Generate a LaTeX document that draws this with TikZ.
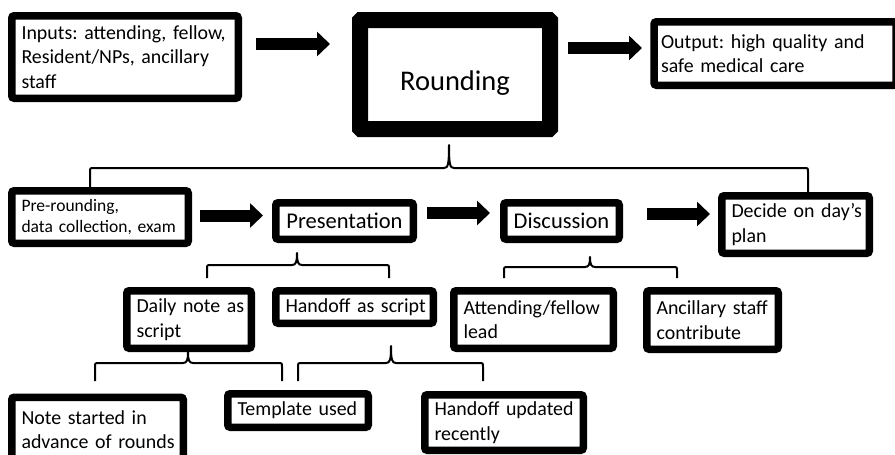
\documentclass[tikz,border=0pt]{standalone}
\usepackage{fontspec}
\setmainfont{Carlito}[WordSpace=0.75]
\usetikzlibrary{arrows.meta}
\begin{document}
\begin{tikzpicture}[x=1pt,y=-1pt,
  box/.style={draw=black, line width=7.5pt, rounded corners=2.5pt, fill=white,
    inner xsep=9.75pt, inner ysep=0pt, align=left, font=\fontsize{19.9}{24.5}\selectfont\frenchspacing},
  bigbox/.style={box, line width=16pt, rounded corners=1pt},
  midbox/.style={box, align=center, inner xsep=4pt, font=\fontsize{22.5}{26}\selectfont},
  blockarrow/.style={line width=12pt, -{Triangle[length=13pt,width=24pt]}},
  bracel/.style={line width=2pt, line join=round}
]
\clip (0,0) rectangle (895,455);
\fill[white] (0,0) rectangle (895,455);

% top row
\node[box, minimum height=82.5pt, text width=207pt] (inputs) at (125,57)
  {\mbox{Inputs: attending, fellow,}\\\mbox{Resident/NPs, ancillary}\\\mbox{staff}};
\node[bigbox, minimum width=190pt, minimum height=109pt] (round) at (455,74.5) {};
\node[font=\fontsize{28.5}{32}\selectfont, inner sep=0pt] (roundtxt) at (455,83) {Rounding};
\node[box, minimum height=63.5pt, text width=228pt, inner xsep=7pt] (output) at (775,53.5)
  {\mbox{Output: high quality and}\\\mbox{safe medical care}};

% second row
\node[box, minimum height=52.5pt, text width=157pt, font=\fontsize{17.5}{20.5}\selectfont\frenchspacing] (pre) at (100,217)
  {\mbox{Pre-rounding,}\\\mbox{data collection, exam}};
\node[midbox, minimum width=137.5pt, minimum height=36.5pt] (pres) at (344.5,221) {Presentation};
\node[midbox, minimum width=115.5pt, minimum height=36.5pt] (disc) at (561.5,221) {Discussion};
\node[box, minimum height=57.5pt, text width=128pt] (decide) at (795.5,224.5)
  {\mbox{Decide on day’s}\\\mbox{plan}};

% third row
\node[box, minimum height=57.5pt, text width=105pt] (daily) at (189,319.5)
  {\mbox{Daily note as}\\\mbox{script}};
\node[box, minimum height=32.5pt, text width=138pt] (handoff) at (354.5,307)
  {\mbox{Handoff as script}};
\node[box, minimum height=57.5pt, text width=140pt] (attend) at (533.5,319.5)
  {\mbox{Attending/fellow}\\\mbox{lead}};
\node[box, minimum height=58.5pt, text width=112pt] (ancil) at (712.5,320)
  {\mbox{Ancillary staff}\\\mbox{contribute}};

% fourth row
\node[box, minimum height=64.5pt, text width=152pt] (note) at (97.5,429.5)
  {\mbox{Note started in}\\\mbox{advance of rounds}};
\node[box, minimum height=33.5pt, text width=121pt] (templ) at (298,410.5)
  {\mbox{Template used}};
\node[box, minimum height=55.5pt, text width=139pt] (hupd) at (504,422.5)
  {\mbox{Handoff updated}\\\mbox{recently}};

% block arrows
\coordinate (a1s) at (256,44);  \coordinate (a1e) at (330,44);
\coordinate (a2s) at (568,48);  \coordinate (a2e) at (642,48);
\coordinate (a3s) at (200,215.5); \coordinate (a3e) at (263,215.5);
\coordinate (a4s) at (427,213); \coordinate (a4e) at (490,213);
\coordinate (a5s) at (647,214); \coordinate (a5e) at (710,214);
\draw[blockarrow] (a1s) -- (a1e);
\draw[blockarrow] (a2s) -- (a2e);
\draw[blockarrow] (a3s) -- (a3e);
\draw[blockarrow] (a4s) -- (a4e);
\draw[blockarrow] (a5s) -- (a5e);

% braces: (xl,yend) up to yh, spike at xm to ytop, down to (xr,yend)
\newcommand\mybrace[7]{%
  \draw[bracel] (#1,#5) -- (#1,#4+4) .. controls (#1,#4) .. (#1+4,#4)
    -- (#3-5,#4) .. controls (#3-1,#4) and (#3,#4-3) .. (#3,#6)
    .. controls (#3,#4-3) and (#3+1,#4) .. (#3+5,#4)
    -- (#2-4,#4) .. controls (#2,#4) .. (#2,#4+4) -- (#2,#7);}
\mybrace{90}{808}{449}{168}{187}{145}{192}
\mybrace{207}{389}{297}{265}{278}{253}{278}
\mybrace{504}{677}{590}{267}{278}{257}{278}
\mybrace{95}{282}{188}{363}{381}{352}{381}
\mybrace{298}{483}{391}{363}{381}{346}{381}
\end{tikzpicture}
\end{document}
